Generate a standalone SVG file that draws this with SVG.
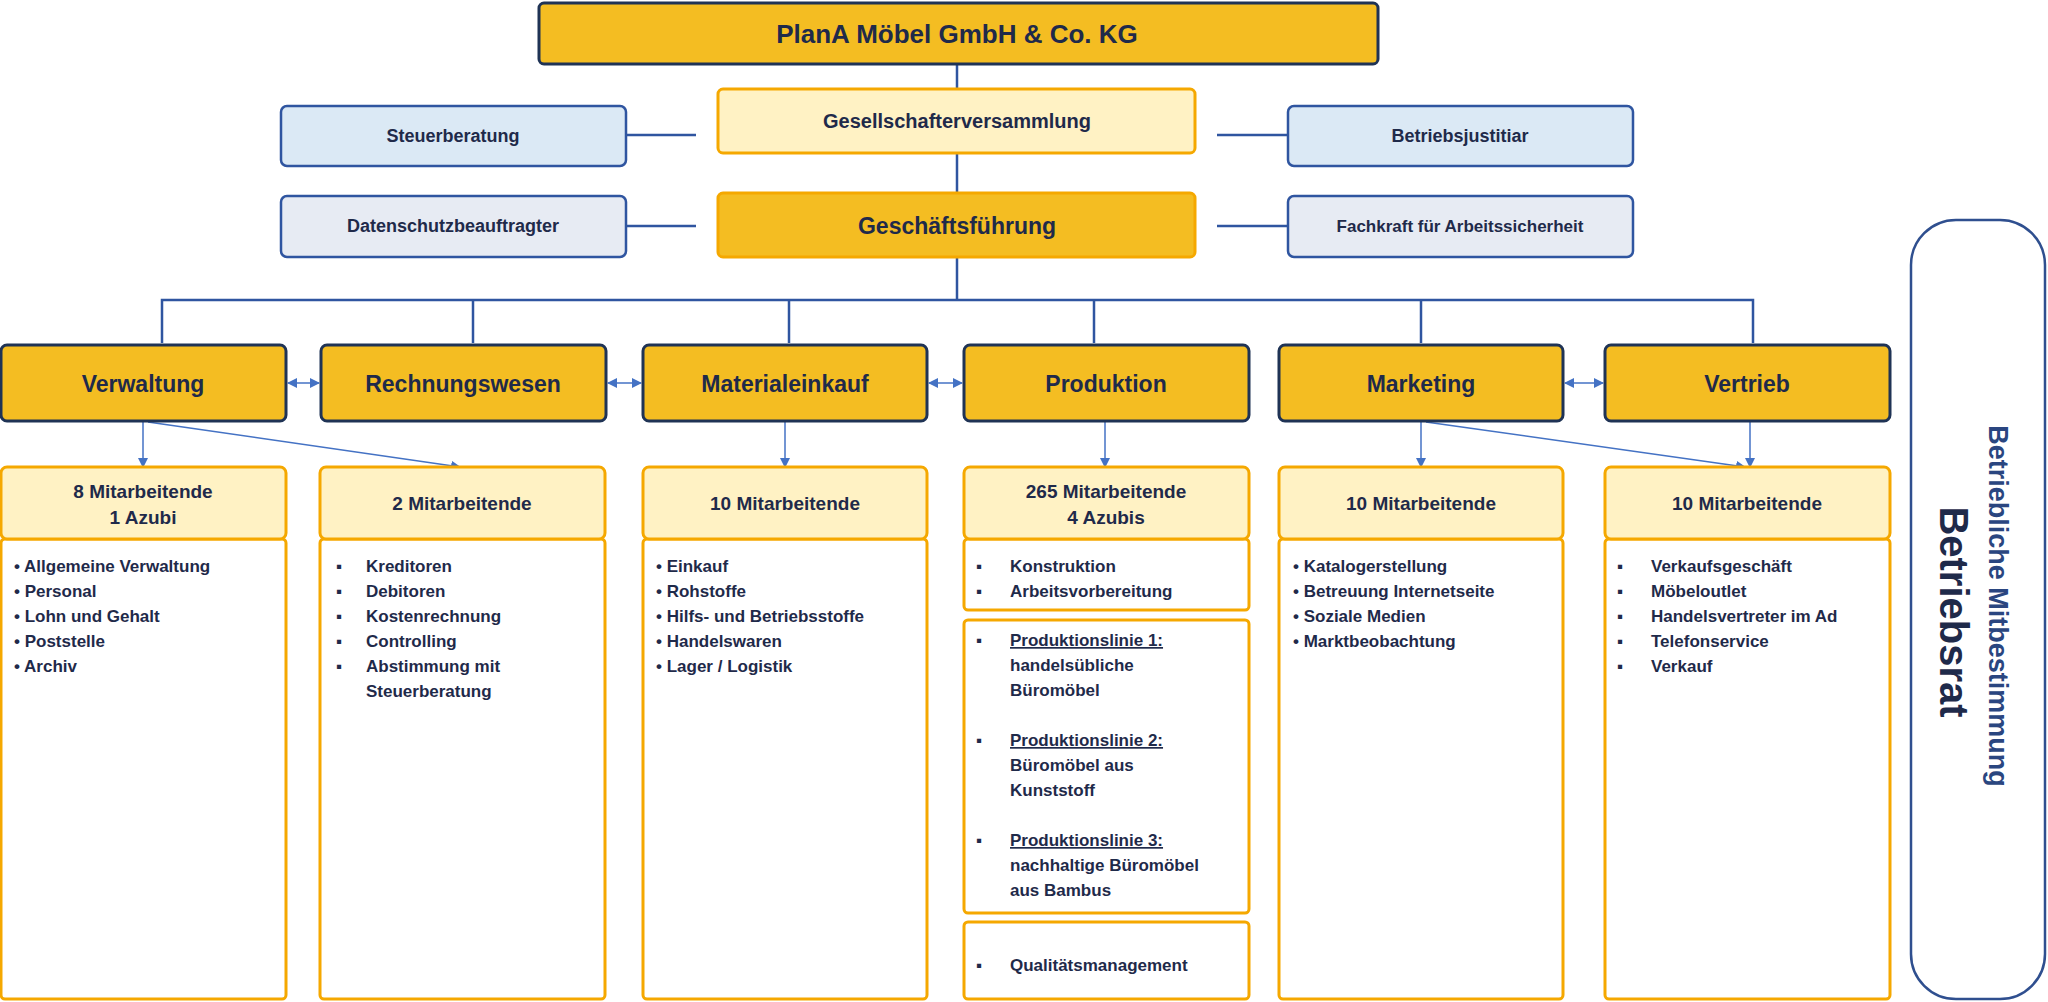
<svg xmlns="http://www.w3.org/2000/svg" width="2048" height="1002" viewBox="0 0 2048 1002">
<style>
text{font-family:"Liberation Sans",Arial,sans-serif;font-weight:bold;fill:#1f2a4a}
.gold{fill:#f4bd22;stroke:#1f3355;stroke-width:3}
.gs{fill:#f4bd22;stroke:#f5a800;stroke-width:3}
.ly{fill:#fff2c4;stroke:#f5a800;stroke-width:3}
.wb{fill:#fff;stroke:#f5a800;stroke-width:3}
.bl{fill:#dbe9f5;stroke:#2f55a0;stroke-width:2.5}
.gr{fill:#e7ebf3;stroke:#2f55a0;stroke-width:2.5}
.c{text-anchor:middle;dominant-baseline:central}
.l{font-size:17px}
.ln{stroke:#2f55a0;stroke-width:2.5;fill:none}
.ar{stroke:#4472c4;stroke-width:1.5;fill:none}
</style>
<defs>
<marker id="ah" markerWidth="10" markerHeight="10" refX="9" refY="5" orient="auto" markerUnits="userSpaceOnUse"><path d="M0,0 L10,5 L0,10 z" fill="#4472c4"/></marker>
<marker id="as" markerWidth="10" markerHeight="10" refX="1" refY="5" orient="auto" markerUnits="userSpaceOnUse"><path d="M10,0 L0,5 L10,10 z" fill="#4472c4"/></marker>
</defs>
<g id="connectors">
<line class="ln" x1="957" y1="64" x2="957" y2="89"/>
<line class="ln" x1="957" y1="153" x2="957" y2="193"/>
<line class="ln" x1="957" y1="257" x2="957" y2="300"/>
<line class="ln" x1="626" y1="135" x2="696" y2="135"/>
<line class="ln" x1="1217" y1="135" x2="1288" y2="135"/>
<line class="ln" x1="626" y1="226" x2="696" y2="226"/>
<line class="ln" x1="1217" y1="226" x2="1288" y2="226"/>
<polyline class="ln" points="162,343 162,300 1753,300 1753,343"/>
<line class="ln" x1="473" y1="300" x2="473" y2="343"/>
<line class="ln" x1="789" y1="300" x2="789" y2="343"/>
<line class="ln" x1="1094" y1="300" x2="1094" y2="343"/>
<line class="ln" x1="1421" y1="300" x2="1421" y2="343"/>
<line class="ar" x1="288" y1="383" x2="319" y2="383" marker-start="url(#as)" marker-end="url(#ah)"/>
<line class="ar" x1="608" y1="383" x2="641" y2="383" marker-start="url(#as)" marker-end="url(#ah)"/>
<line class="ar" x1="929" y1="383" x2="962" y2="383" marker-start="url(#as)" marker-end="url(#ah)"/>
<line class="ar" x1="1565" y1="383" x2="1603" y2="383" marker-start="url(#as)" marker-end="url(#ah)"/>
<line class="ar" x1="143" y1="422" x2="143" y2="467" marker-end="url(#ah)"/>
<line class="ar" x1="148" y1="422" x2="460" y2="467" marker-end="url(#ah)"/>
<line class="ar" x1="785" y1="422" x2="785" y2="467" marker-end="url(#ah)"/>
<line class="ar" x1="1105" y1="422" x2="1105" y2="467" marker-end="url(#ah)"/>
<line class="ar" x1="1421" y1="422" x2="1421" y2="467" marker-end="url(#ah)"/>
<line class="ar" x1="1426" y1="422" x2="1745" y2="467" marker-end="url(#ah)"/>
<line class="ar" x1="1750" y1="422" x2="1750" y2="467" marker-end="url(#ah)"/>
</g>
<g id="top"><rect class="gold" x="539" y="3" width="839" height="61" rx="5"/><text class="c" x="957" y="34" font-size="26">PlanA Möbel  GmbH &amp; Co. KG</text></g>
<g id="gv"><rect class="ly" x="718" y="89" width="477" height="64" rx="5"/><text class="c" x="957" y="121" font-size="20">Gesellschafterversammlung</text></g>
<g id="steuer"><rect class="bl" x="281" y="106" width="345" height="60" rx="6"/><text class="c" x="453" y="136" font-size="18">Steuerberatung</text></g>
<g id="justitiar"><rect class="bl" x="1288" y="106" width="345" height="60" rx="6"/><text class="c" x="1460" y="136" font-size="18">Betriebsjustitiar</text></g>
<g id="gf"><rect class="gs" x="718" y="193" width="477" height="64" rx="5"/><text class="c" x="957" y="226" font-size="23">Geschäftsführung</text></g>
<g id="daten"><rect class="gr" x="281" y="196" width="345" height="61" rx="6"/><text class="c" x="453" y="226" font-size="18">Datenschutzbeauftragter</text></g>
<g id="fachkraft"><rect class="gr" x="1288" y="196" width="345" height="61" rx="6"/><text class="c" x="1460" y="226" font-size="17">Fachkraft für Arbeitssicherheit</text></g>
<g id="verw"><rect class="gold" x="1" y="345" width="285" height="76" rx="6"/><text class="c" x="143" y="384" font-size="23">Verwaltung</text></g>
<g id="rech"><rect class="gold" x="321" y="345" width="285" height="76" rx="6"/><text class="c" x="463" y="384" font-size="23">Rechnungswesen</text></g>
<g id="mat"><rect class="gold" x="643" y="345" width="284" height="76" rx="6"/><text class="c" x="785" y="384" font-size="23">Materialeinkauf</text></g>
<g id="prod"><rect class="gold" x="964" y="345" width="285" height="76" rx="6"/><text class="c" x="1106" y="384" font-size="23">Produktion</text></g>
<g id="mark"><rect class="gold" x="1279" y="345" width="284" height="76" rx="6"/><text class="c" x="1421" y="384" font-size="23">Marketing</text></g>
<g id="vert"><rect class="gold" x="1605" y="345" width="285" height="76" rx="6"/><text class="c" x="1747" y="384" font-size="23">Vertrieb</text></g>
<g id="col1"><rect class="wb" x="1" y="539" width="285" height="460" rx="4"/><rect class="ly" x="1" y="467" width="285" height="72" rx="6"/>
<text class="c" x="143" y="491" font-size="19">8 Mitarbeitende</text><text class="c" x="143" y="517" font-size="19">1 Azubi</text>
<g class="l"><text x="14" y="572">• Allgemeine Verwaltung</text><text x="14" y="597">• Personal</text><text x="14" y="622">• Lohn und Gehalt</text><text x="14" y="647">• Poststelle</text><text x="14" y="672">• Archiv</text></g></g>
<g id="col2"><rect class="wb" x="320" y="539" width="285" height="460" rx="4"/><rect class="ly" x="320" y="467" width="285" height="72" rx="6"/>
<text class="c" x="462" y="503" font-size="19">2 Mitarbeitende</text>
<g class="l"><text x="336" y="572">▪</text><text x="366" y="572">Kreditoren</text><text x="336" y="597">▪</text><text x="366" y="597">Debitoren</text><text x="336" y="622">▪</text><text x="366" y="622">Kostenrechnung</text><text x="336" y="647">▪</text><text x="366" y="647">Controlling</text><text x="336" y="672">▪</text><text x="366" y="672">Abstimmung mit</text><text x="366" y="697">Steuerberatung</text></g></g>
<g id="col3"><rect class="wb" x="643" y="539" width="284" height="460" rx="4"/><rect class="ly" x="643" y="467" width="284" height="72" rx="6"/>
<text class="c" x="785" y="503" font-size="19">10 Mitarbeitende</text>
<g class="l"><text x="656" y="572">• Einkauf</text><text x="656" y="597">• Rohstoffe</text><text x="656" y="622">• Hilfs- und Betriebsstoffe</text><text x="656" y="647">• Handelswaren</text><text x="656" y="672">• Lager / Logistik</text></g></g>
<g id="col4"><rect class="wb" x="964" y="539" width="285" height="71" rx="4"/><rect class="ly" x="964" y="467" width="285" height="72" rx="6"/>
<text class="c" x="1106" y="491" font-size="19">265 Mitarbeitende</text><text class="c" x="1106" y="517" font-size="19">4 Azubis</text>
<g class="l"><text x="976" y="572">▪</text><text x="1010" y="572">Konstruktion</text><text x="976" y="597">▪</text><text x="1010" y="597">Arbeitsvorbereitung</text></g></g>
<g id="prodlinien"><rect class="wb" x="964" y="620" width="285" height="293" rx="4"/>
<g class="l"><text x="976" y="646">▪</text><text x="1010" y="646" text-decoration="underline">Produktionslinie 1:</text><text x="1010" y="671">handelsübliche</text><text x="1010" y="696">Büromöbel</text>
<text x="976" y="746">▪</text><text x="1010" y="746" text-decoration="underline">Produktionslinie 2:</text><text x="1010" y="771">Büromöbel aus</text><text x="1010" y="796">Kunststoff</text>
<text x="976" y="846">▪</text><text x="1010" y="846" text-decoration="underline">Produktionslinie 3:</text><text x="1010" y="871">nachhaltige Büromöbel</text><text x="1010" y="896">aus  Bambus</text></g></g>
<g id="qm"><rect class="wb" x="964" y="922" width="285" height="77" rx="4"/><g class="l"><text x="976" y="971">▪</text><text x="1010" y="971">Qualitätsmanagement</text></g></g>
<g id="col5"><rect class="wb" x="1279" y="539" width="284" height="460" rx="4"/><rect class="ly" x="1279" y="467" width="284" height="72" rx="6"/>
<text class="c" x="1421" y="503" font-size="19">10 Mitarbeitende</text>
<g class="l"><text x="1293" y="572">• Katalogerstellung</text><text x="1293" y="597">• Betreuung Internetseite</text><text x="1293" y="622">• Soziale Medien</text><text x="1293" y="647">• Marktbeobachtung</text></g></g>
<g id="col6"><rect class="wb" x="1605" y="539" width="285" height="460" rx="4"/><rect class="ly" x="1605" y="467" width="285" height="72" rx="6"/>
<text class="c" x="1747" y="503" font-size="19">10 Mitarbeitende</text>
<g class="l"><text x="1617" y="572">▪</text><text x="1651" y="572">Verkaufsgeschäft</text><text x="1617" y="597">▪</text><text x="1651" y="597">Möbeloutlet</text><text x="1617" y="622">▪</text><text x="1651" y="622">Handelsvertreter im Ad</text><text x="1617" y="647">▪</text><text x="1651" y="647">Telefonservice</text><text x="1617" y="672">▪</text><text x="1651" y="672">Verkauf</text></g></g>
<g id="betriebsrat"><rect x="1911" y="220" width="134" height="779" rx="45" fill="#fff" stroke="#2f4f8f" stroke-width="2.5"/>
<text class="c" transform="translate(1998,606) rotate(90)" font-size="27" style="fill:#2a4680">Betriebliche Mitbestimmung</text>
<text class="c" transform="translate(1954,612) rotate(90)" font-size="40">Betriebsrat</text></g>
</svg>
